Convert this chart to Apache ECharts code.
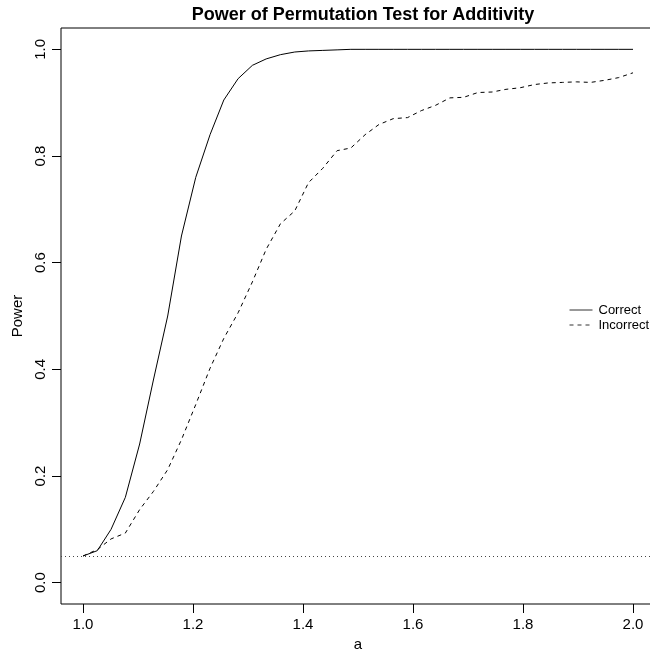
<!DOCTYPE html>
<html>
<head>
<meta charset="utf-8">
<script src="https://cdn.jsdelivr.net/npm/echarts@6/dist/echarts.min.js"></script>
<style>
    html, body { margin: 0; padding: 0; background: #fff; }
    #chart { width: 650px; height: 657px; }
</style>
</head>
<body>
<div id="chart"></div>
<script>
// values of a (40 equally spaced points between 1 and 2)
const aValues = [
    1.000, 1.026, 1.051, 1.077, 1.103, 1.128, 1.154, 1.179, 1.205, 1.231,
    1.256, 1.282, 1.308, 1.333, 1.359, 1.385, 1.410, 1.436, 1.462, 1.487,
    1.513, 1.538, 1.564, 1.590, 1.615, 1.641, 1.667, 1.692, 1.718, 1.744,
    1.769, 1.795, 1.821, 1.846, 1.872, 1.897, 1.923, 1.949, 1.974, 2.000
];

const correctPower = [
    0.050, 0.060, 0.100, 0.160, 0.260, 0.380, 0.500, 0.650, 0.760, 0.840,
    0.905, 0.945, 0.970, 0.982, 0.990, 0.995, 0.997, 0.998, 0.999, 1.000,
    1.000, 1.000, 1.000, 1.000, 1.000, 1.000, 1.000, 1.000, 1.000, 1.000,
    1.000, 1.000, 1.000, 1.000, 1.000, 1.000, 1.000, 1.000, 1.000, 1.000
];

const incorrectPower = [
    0.050, 0.062, 0.082, 0.093, 0.137, 0.171, 0.212, 0.268, 0.334, 0.402,
    0.458, 0.506, 0.564, 0.625, 0.673, 0.697, 0.750, 0.777, 0.810, 0.815,
    0.840, 0.859, 0.870, 0.872, 0.885, 0.895, 0.909, 0.910, 0.919, 0.920,
    0.925, 0.928, 0.934, 0.937, 0.938, 0.939, 0.938, 0.942, 0.947, 0.956
];

const nominalLevel = 0.05;
const xTicks = [1.0, 1.2, 1.4, 1.6, 1.8, 2.0];
const yTicks = [0.0, 0.2, 0.4, 0.6, 0.8, 1.0];

const FONT = "'Liberation Sans', Arial, Helvetica, sans-serif";

/**
 * zip x values with y values into [x, y] pairs
 */
const toPairs = (ys) => aValues.map((a, i) => [a, ys[i]]);

const chart = echarts.init(document.getElementById('chart'), null, {renderer: 'canvas'});

const option = {
    animation: false,
    backgroundColor: '#fff',
    title: {
        text: 'Power of Permutation Test for Additivity',
        left: 358,
        top: 1,
        textAlign: 'center',
        textStyle: {fontFamily: FONT, fontSize: 18, fontWeight: 'bold', color: '#000'}
    },
    grid: {
        left: 61,
        top: 28,
        width: 594,
        height: 576,
        show: true,
        borderColor: '#000',
        borderWidth: 1,
        outerBoundsMode: 'none'
    },
    legend: {
        data: ['Correct', 'Incorrect'],
        orient: 'vertical',
        left: 564,
        top: 298,
        itemWidth: 23,
        itemHeight: 14,
        itemGap: 1,
        selectedMode: false,
        // hide the symbol that line series put in the middle of the legend icon
        itemStyle: {color: 'transparent', borderColor: 'transparent', borderWidth: 0, opacity: 0},
        lineStyle: {width: 1, color: '#333'},
        textStyle: {fontFamily: FONT, fontSize: 13, color: '#000', lineHeight: 14, padding: [0, 0, 0, 1]}
    },
    xAxis: {
        type: 'value',
        min: 0.96,
        max: 2.04,
        name: 'a',
        nameLocation: 'middle',
        nameGap: 32,
        nameTextStyle: {fontFamily: FONT, fontSize: 15, color: '#000'},
        axisLine: {show: false, onZero: false},
        splitLine: {show: false},
        axisTick: {show: true, length: 9, customValues: xTicks, lineStyle: {color: '#000'}},
        axisLabel: {
            customValues: xTicks,
            margin: 13,
            fontFamily: FONT,
            fontSize: 15,
            color: '#000',
            formatter: v => v.toFixed(1)
        }
    },
    yAxis: {
        type: 'value',
        min: -0.04,
        max: 1.04,
        name: 'Power',
        nameLocation: 'middle',
        nameGap: 35,
        nameTextStyle: {fontFamily: FONT, fontSize: 15, color: '#000'},
        axisLine: {show: false, onZero: false},
        splitLine: {show: false},
        axisTick: {show: true, length: 9, customValues: yTicks, lineStyle: {color: '#000'}},
        axisLabel: {
            customValues: yTicks,
            rotate: 90,
            margin: 13,
            fontFamily: FONT,
            fontSize: 15,
            color: '#000',
            formatter: v => v.toFixed(1)
        }
    },
    series: [
        {
            name: 'Correct',
            type: 'line',
            data: toPairs(correctPower),
            symbol: 'none',
            lineStyle: {color: '#000', width: 1, type: 'solid'},
            itemStyle: {color: '#000'},
            // dotted reference line at the nominal level
            markLine: {
                silent: true,
                symbol: 'none',
                label: {show: false},
                lineStyle: {color: '#444', width: 1, type: [1, 3]},
                data: [{yAxis: nominalLevel}]
            }
        },
        {
            name: 'Incorrect',
            type: 'line',
            data: toPairs(incorrectPower),
            symbol: 'none',
            lineStyle: {color: '#000', width: 1, type: [4, 4]},
            itemStyle: {color: '#000'}
        }
    ]
};

chart.setOption(option);
</script>
</body>
</html>
